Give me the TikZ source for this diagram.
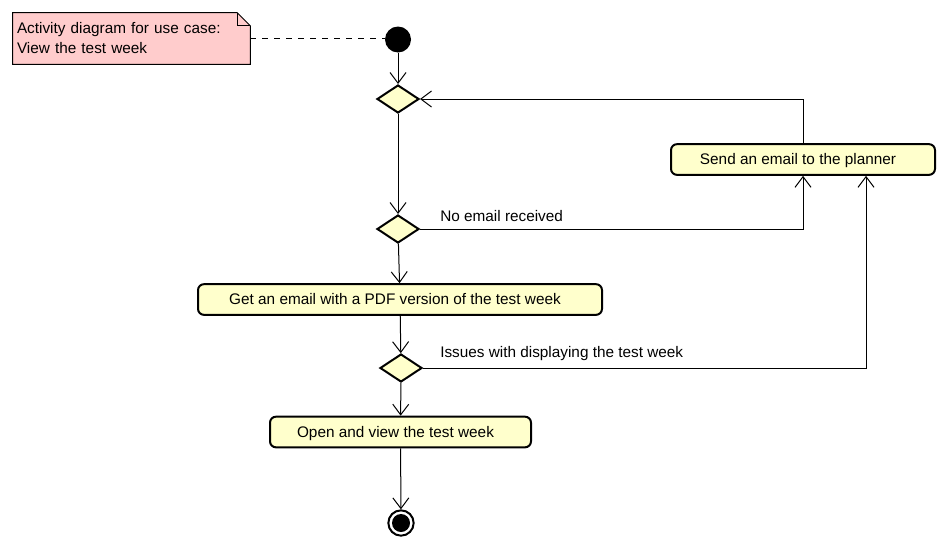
\documentclass[tikz,border=0pt]{standalone}
\usepackage{fontspec}
\setmainfont{Liberation Sans}
\usetikzlibrary{arrows.meta,shapes.geometric,backgrounds,positioning}
\definecolor{notepink}{HTML}{FFCCCC}
\definecolor{actyellow}{HTML}{FFFFCC}

\begin{document}
\begin{tikzpicture}[x=0.75pt,y=-0.75pt,
   font=\fontsize{11.5}{13.8}\selectfont,
   flow/.style={line width=0.75pt,-{Straight Barb[length=8pt,width=12pt]}},
   activity/.style={draw,line width=1.5pt,rounded corners=4.5pt,fill=actyellow,
      minimum height=23pt,inner sep=0pt,text height=8.2pt,text depth=0pt,
      execute at end node=\hspace*{7.5pt}},
   branch/.style={diamond,draw,line width=1.5pt,fill=actyellow,
      minimum width=31.5pt,minimum height=21pt,inner sep=0pt},
   guard/.style={anchor=base west,inner sep=0pt},
   startnode/.style={circle,fill=black,minimum size=19.5pt,inner sep=0pt},
   stopnode/.style={circle,draw,line width=1.5pt,minimum size=19pt,inner sep=0pt,
      path picture={\fill (path picture bounding box.center) circle (6.75pt);}},
   notebox/.style={minimum width=177.75pt,minimum height=38.25pt,inner sep=3pt,
      text width=171.75pt,align=left,font=\fontsize{11.5}{15}\selectfont}]
\useasboundingbox (0,0) rectangle (949,550);

% note
\node[notebox] (note) at (131.5,38.5) {Activity diagram for use case:\\View the test week};
\begin{pgfonlayer}{background}
\draw[line width=0.75pt,fill=notepink] (note.south west) |- ([xshift=-9.75pt]note.north east)
   -- ([yshift=-9.75pt]note.north east) |- cycle;
\draw[line width=0.75pt] ([xshift=-9.75pt]note.north east) |- ([yshift=-9.75pt]note.north east);
\end{pgfonlayer}

% nodes
\node[startnode] (start) at (398,39.5) {};
\node[branch] (d1) at (398,99) {};
\node[branch] (d2) at (398,229) {};
\node[activity,minimum width=198pt] (send) at (803,159.5) {Send an email to the planner};
\node[activity,minimum width=303pt] (get) at (400,299.5) {Get an email with a PDF version of the test week};
\node[branch] (d3) at (401,368) {};
\node[activity,minimum width=195.75pt] (open) at (400.5,432) {Open and view the test week};
\node[stopnode] (stop) at (401,523) {};

% connectors
\draw[line width=0.75pt,dash pattern=on 4.5pt off 4.5pt] (note.east) -- (note.east -| start.west);
\draw[flow] (start) -- (d1);
\draw[flow] (d1) -- (d2);
\draw[flow] (d2.east) -| (send.south);
\draw[flow] (send.north) |- (d1.east);
\draw[flow] (d2) -- (get);
\draw[flow] (get) -- (d3);
\draw[flow] (d3.east) -| ([xshift=47.25pt]send.south);
\draw[flow] (d3) -- (open);
\draw[flow] (open) -- (stop);

% guards
\node[guard] (noemail) at (440,221) {No email received};
\node[guard] (issues) at (440,357) {Issues with displaying the test week};
\end{tikzpicture}
\end{document}
